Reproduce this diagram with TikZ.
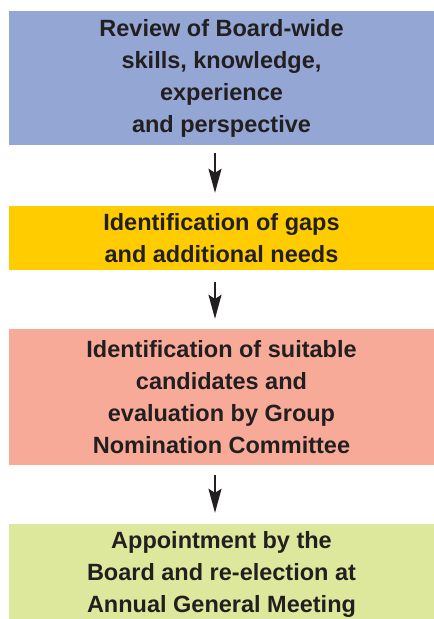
\documentclass[tikz,border=0pt]{standalone}
\usepackage{fontspec}
\setmainfont{Liberation Sans}
\usetikzlibrary{arrows.meta}
\definecolor{stepblue}{RGB}{147,166,212}
\definecolor{stepyellow}{RGB}{255,204,0}
\definecolor{stepsalmon}{RGB}{247,170,152}
\definecolor{stepgreen}{RGB}{222,232,156}
\definecolor{inkdark}{RGB}{35,31,32}
\begin{document}
\begin{tikzpicture}[x=1pt,y=-1pt,
  stepbox/.style={draw=none, inner sep=0pt, minimum width=425pt,
    align=center, text=inkdark,
    font=\bfseries\fontsize{23.5}{32}\selectfont},
  flow/.style={draw=inkdark, line width=1.8pt,
    -{Stealth[length=24pt,width=13pt,inset=4pt]}}
]
\useasboundingbox (0,0) rectangle (434,619);

% process steps, top to bottom
\node[stepbox, fill=stepblue, minimum height=134pt] (review) at (221.5,78)
  {Review of Board-wide\\skills, knowledge,\\experience\\and perspective};
\node[stepbox, fill=stepyellow, minimum height=64pt] (gaps) at (221.5,238)
  {Identification of gaps\\and additional needs};
\node[stepbox, fill=stepsalmon, minimum height=136pt] (cand) at (221.5,397)
  {Identification of suitable\\candidates and\\evaluation by Group\\Nomination Committee};
\node[stepbox, fill=stepgreen, minimum height=100pt] (appoint) at (221.5,574)
  {Appointment by the\\Board and re-election at\\Annual General Meeting};

% connectors between steps
\draw[flow, shorten <=8pt, shorten >=13pt]
  ([xshift=-6.5pt]review.south) -- ([xshift=-6.5pt]gaps.north);
\draw[flow, shorten <=12pt, shorten >=10pt]
  ([xshift=-6.5pt]gaps.south) -- ([xshift=-6.5pt]cand.north);
\draw[flow, shorten <=10pt, shorten >=11pt]
  ([xshift=-6.5pt]cand.south) -- ([xshift=-6.5pt]appoint.north);
\end{tikzpicture}
\end{document}
